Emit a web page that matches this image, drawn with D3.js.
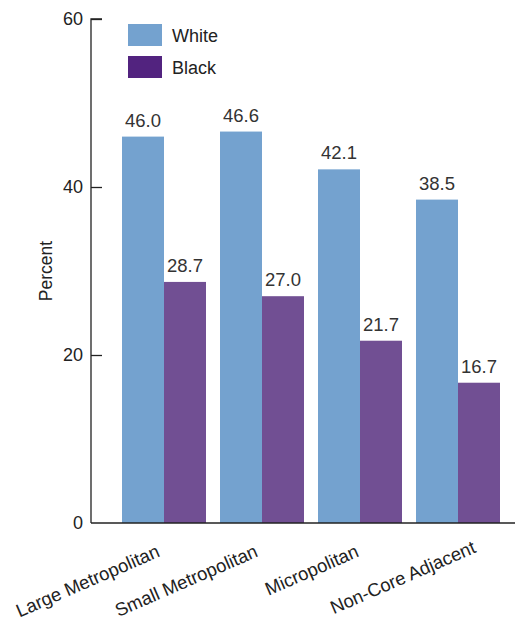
<!DOCTYPE html>
<html>
<head>
<meta charset="utf-8">
<script src="https://cdn.jsdelivr.net/npm/d3@7"></script>
<style>
  html, body { margin: 0; padding: 0; background: #fff; }
  svg { display: block; font-family: "Liberation Sans", Arial, Helvetica, sans-serif; }
</style>
</head>
<body>
<svg id="chart" width="515" height="622"></svg>
<script>
// Share of adults, by race and county urbanization level
const categories = ["Large Metropolitan", "Small Metropolitan", "Micropolitan", "Non-Core Adjacent"];
const seriesNames = ["White", "Black"];
const whiteValues = [46.0, 46.6, 42.1, 38.5];
const blackValues = [28.7, 27.0, 21.7, 16.7];
const yTicks = [0, 20, 40, 60];

const barColors = { White: "#74a2cf", Black: "#714f93" };
const legendColors = { White: "#74a2cf", Black: "#52237f" };

const svg = d3.select("#chart");
const axisLeft = 91, axisBottom = 523, axisTop = 19, axisRight = 515;

const y = d3.scaleLinear().domain([0, 60]).range([axisBottom, axisTop]);
const x0 = d3.scaleBand().domain(categories).range([115, 507])
  .paddingInner(0.143).paddingOuter(0.0715);
const x1 = d3.scaleBand().domain(seriesNames).range([0, x0.bandwidth()]);

const rows = categories.map((c, i) => ({
  category: c,
  values: [{ key: "White", v: whiteValues[i] }, { key: "Black", v: blackValues[i] }]
}));

// bars
const groups = svg.append("g").selectAll("g").data(rows).join("g")
  .attr("transform", d => `translate(${x0(d.category)},0)`);
groups.selectAll("rect").data(d => d.values).join("rect")
  .attr("x", d => x1(d.key))
  .attr("y", d => y(d.v))
  .attr("width", x1.bandwidth())
  .attr("height", d => y(0) - y(d.v))
  .attr("fill", d => barColors[d.key]);

// value labels
groups.selectAll("text").data(d => d.values).join("text")
  .attr("x", d => x1(d.key) + x1.bandwidth() / 2)
  .attr("y", d => y(d.v) - 10)
  .attr("text-anchor", "middle")
  .attr("font-size", 18.5)
  .attr("fill", "#333")
  .text(d => d.v.toFixed(1));

// y axis
const yAxis = svg.append("g").attr("transform", `translate(${axisLeft},0)`)
  .call(d3.axisRight(y).tickValues(yTicks).tickSize(11).tickFormat(d3.format("d")));
yAxis.select(".domain").attr("d", `M11,${axisTop}H0V${axisBottom}`).attr("stroke", "#222").attr("stroke-width", 1.3);
yAxis.selectAll(".tick line").attr("stroke", "#222").attr("stroke-width", 1.3);
yAxis.selectAll(".tick text")
  .attr("x", -8).attr("text-anchor", "end")
  .attr("font-size", 18).attr("fill", "#222")
  .style("font-family", "inherit");
yAxis.selectAll(".tick").filter(d => d === 0).select("line").remove();

// x axis baseline
svg.append("line")
  .attr("x1", axisLeft).attr("x2", axisRight)
  .attr("y1", axisBottom).attr("y2", axisBottom)
  .attr("stroke", "#222").attr("stroke-width", 1.3);

// category labels (the last one sits a little further right)
const labelNudge = [[-3, 0], [-3, 0], [0, 0], [19, -4]];
svg.append("g").selectAll("text").data(categories).join("text")
  .attr("transform", (d, i) =>
    `translate(${x0(d) + x0.bandwidth() / 2 + labelNudge[i][0]},${axisBottom + 33 + labelNudge[i][1]}) rotate(-23.5)`)
  .attr("text-anchor", "end")
  .attr("font-size", 18.5)
  .attr("fill", "#222")
  .text(d => d);

// y axis title
svg.append("text")
  .attr("transform", `translate(52,${(axisTop + axisBottom) / 2}) rotate(-90)`)
  .attr("text-anchor", "middle")
  .attr("font-size", 17.5)
  .attr("fill", "#222")
  .text("Percent");

// legend
const legend = svg.append("g").selectAll("g").data(seriesNames).join("g")
  .attr("transform", (d, i) => `translate(128,${24 + i * 32})`);
legend.append("rect").attr("width", 34).attr("height", 22).attr("fill", d => legendColors[d]);
legend.append("text").attr("x", 44).attr("y", 18)
  .attr("font-size", 18).attr("fill", "#222").text(d => d);
</script>
</body>
</html>
